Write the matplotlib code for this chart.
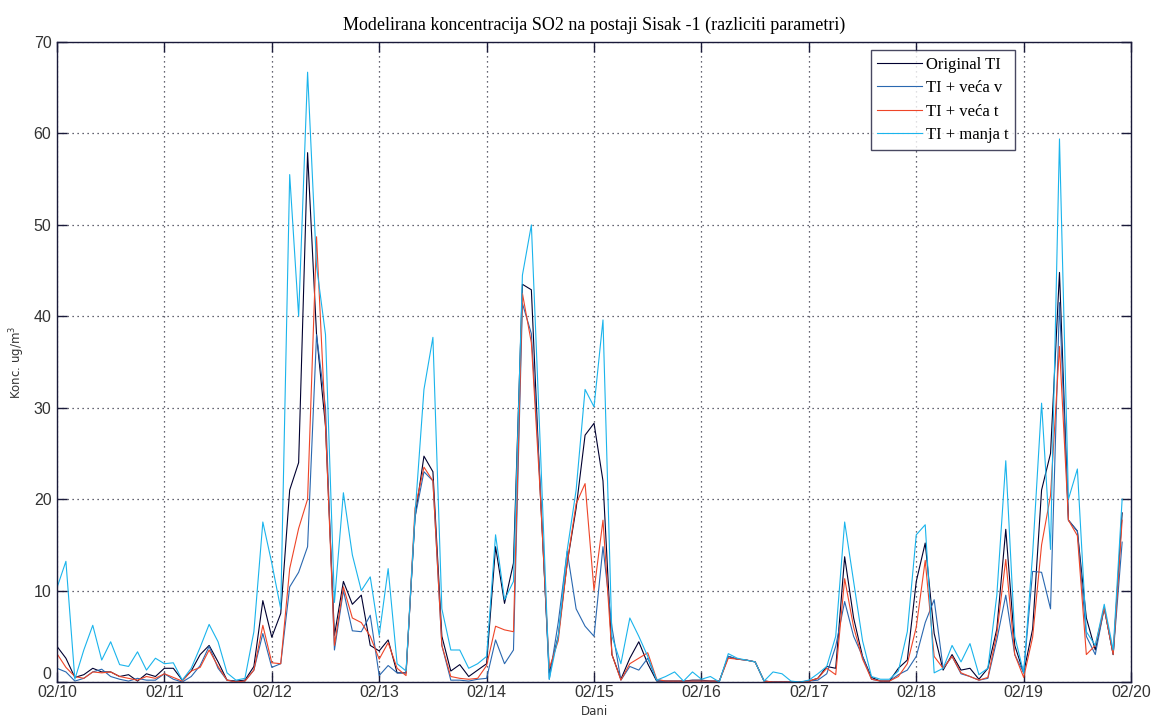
import matplotlib
matplotlib.use("Agg")
import matplotlib.pyplot as plt
import numpy as np

# 2-hourly model output, 02/10 00h .. 02/19 22h (one row per day)
hours = np.arange(0, 240, 2)

original_ti = [
    3.9, 2.6, 0.5, 0.8, 1.5, 1.1, 1.1, 0.6, 0.8, 0.1, 0.9, 0.6,
    1.5, 1.5, 0.2, 1.2, 3.0, 4.0, 2.2, 0.2, 0.1, 0.2, 1.7, 8.9,
    4.9, 7.5, 21.0, 24.0, 57.9, 38.0, 28.0, 5.1, 11.0, 8.5, 9.5, 4.0,
    3.4, 4.6, 1.0, 1.0, 18.0, 24.7, 23.0, 5.0, 1.2, 1.9, 0.6, 1.3,
    2.0, 14.8, 8.6, 13.0, 43.5, 42.9, 20.6, 1.0, 5.0, 13.0, 19.0, 27.0,
    28.3, 22.0, 3.0, 0.3, 2.6, 4.4, 2.0, 0.1, 0.1, 0.1, 0.1, 0.2,
    0.2, 0.1, 0.1, 2.8, 2.5, 2.4, 2.2, 0.1, 0.0, 0.0, 0.0, 0.0,
    0.1, 0.4, 1.7, 1.5, 13.7, 7.0, 2.8, 0.5, 0.1, 0.1, 1.5, 2.4,
    11.0, 15.2, 5.3, 1.3, 3.0, 1.3, 1.5, 0.3, 1.5, 5.8, 16.7, 4.0,
    1.0, 5.8, 21.0, 25.0, 44.8, 17.7, 16.5, 7.0, 3.5, 8.1, 3.0, 18.5,
]

veca_v = [
    1.5, 1.1, 0.1, 0.4, 1.1, 1.4, 0.6, 0.3, 0.1, 0.4, 0.2, 0.2,
    0.9, 0.3, 0.0, 0.6, 1.8, 3.9, 1.5, 0.2, 0.0, 0.1, 1.3, 5.3,
    1.6, 2.0, 10.4, 12.0, 14.8, 38.0, 30.0, 3.5, 10.0, 5.6, 5.5, 7.3,
    0.7, 1.8, 1.0, 1.0, 18.0, 23.0, 22.0, 4.0, 0.2, 0.2, 0.1, 0.3,
    0.4, 4.6, 2.0, 3.5, 41.4, 38.1, 21.5, 0.3, 6.5, 14.3, 8.0, 6.1,
    5.0, 14.8, 6.0, 0.2, 1.7, 1.3, 2.6, 0.2, 0.1, 0.1, 0.1, 0.1,
    0.1, 0.1, 0.1, 2.8, 2.5, 2.4, 2.2, 0.1, 0.0, 0.0, 0.0, 0.0,
    0.1, 0.2, 0.9, 3.9, 8.8, 5.0, 2.8, 0.3, 0.1, 0.1, 0.8, 1.3,
    2.8, 6.5, 9.0, 1.5, 2.8, 0.9, 0.6, 0.2, 0.4, 4.6, 9.5, 3.0,
    1.0, 12.1, 12.0, 8.0, 41.5, 17.7, 16.5, 5.0, 3.0, 8.1, 3.0, 15.3,
]

veca_t = [
    3.1, 1.6, 0.6, 0.4, 1.1, 1.0, 1.1, 0.6, 0.4, 0.2, 0.6, 0.4,
    0.9, 0.5, 0.1, 1.2, 1.6, 3.5, 1.7, 0.2, 0.0, 0.1, 1.3, 6.2,
    2.1, 2.0, 12.4, 16.8, 20.0, 48.7, 28.0, 4.0, 10.4, 7.0, 6.5, 5.0,
    2.5, 4.3, 1.5, 0.7, 19.0, 23.5, 22.0, 4.0, 0.6, 0.4, 0.3, 0.4,
    1.8, 6.1, 5.7, 5.5, 42.5, 37.1, 20.5, 1.5, 4.5, 13.0, 19.5, 21.7,
    10.0, 17.7, 3.0, 0.2, 2.0, 2.6, 3.2, 0.3, 0.1, 0.1, 0.1, 0.1,
    0.1, 0.1, 0.1, 2.6, 2.5, 2.4, 2.2, 0.1, 0.0, 0.0, 0.0, 0.0,
    0.1, 0.4, 1.5, 0.8, 11.3, 6.0, 2.5, 0.3, 0.1, 0.1, 0.6, 2.0,
    6.0, 13.3, 2.8, 1.5, 2.8, 1.0, 0.6, 0.2, 0.5, 5.3, 13.4, 3.0,
    0.5, 4.9, 15.0, 20.4, 36.7, 17.7, 16.0, 3.0, 4.0, 8.1, 3.0, 17.7,
]

manja_t = [
    10.3, 13.2, 0.3, 3.5, 6.2, 2.4, 4.4, 1.9, 1.7, 3.3, 1.3, 2.6,
    2.0, 2.1, 0.2, 1.5, 3.8, 6.3, 4.4, 1.0, 0.2, 0.4, 5.5, 17.5,
    13.0, 8.0, 55.5, 40.0, 66.7, 45.5, 38.0, 8.7, 20.7, 13.9, 10.0, 11.5,
    5.1, 12.4, 2.0, 1.2, 18.3, 32.0, 37.7, 8.0, 3.5, 3.5, 1.5, 2.0,
    2.8, 16.1, 9.0, 11.0, 44.5, 50.0, 25.7, 0.3, 5.0, 14.4, 21.0, 32.0,
    30.1, 39.6, 5.0, 2.0, 7.0, 5.0, 2.8, 0.2, 0.6, 1.1, 0.1, 1.1,
    0.3, 0.6, 0.0, 3.1, 2.6, 2.4, 2.2, 0.1, 1.1, 0.9, 0.1, 0.0,
    0.2, 0.9, 1.7, 5.0, 17.5, 11.0, 4.5, 0.6, 0.3, 0.3, 1.2, 5.5,
    16.1, 17.2, 1.0, 1.5, 4.0, 2.2, 4.2, 0.8, 1.5, 9.5, 24.2, 5.0,
    1.0, 14.0, 30.5, 14.5, 59.4, 20.0, 23.3, 5.5, 4.0, 8.5, 3.5, 20.0,
]

day_labels = ["02/10", "02/11", "02/12", "02/13", "02/14", "02/15",
              "02/16", "02/17", "02/18", "02/19", "02/20"]
series_names = ["Original TI", "TI + veća v", "TI + veća t", "TI + manja t"]

colors = ["#000030", "#2a68b0", "#ee4528", "#1ab4ec"]

fig = plt.figure(figsize=(11.53, 7.21), dpi=100)
ax = fig.add_axes([0.0494, 0.0541, 0.9316, 0.8876])

for vals, name, c in zip([original_ti, veca_v, veca_t, manja_t], series_names, colors):
    ax.plot(hours, vals, color=c, linewidth=0.8, label=name)

ax.set_xlim(0, 240)
ax.set_ylim(0, 70)
ax.set_xticks(np.arange(0, 241, 24))
ax.set_xticklabels(day_labels)
ax.set_yticks(np.arange(0, 71, 10))

for lbl in ax.get_xticklabels() + ax.get_yticklabels():
    lbl.set_fontfamily("Liberation Sans")
    lbl.set_fontsize(11.5)
    lbl.set_color("#333333")
# the zero label sits just above the x axis, clear of the first date
ax.get_yticklabels()[0].set_verticalalignment("bottom")

ax.tick_params(direction="in", length=7, width=1, top=True, right=True,
               color="#1a1a3a")
ax.tick_params(axis="x", pad=2)
ax.tick_params(axis="y", pad=4)
ax.grid(True, linestyle=(0, (1, 3)), color="#333344", linewidth=0.9)
for sp in ax.spines.values():
    sp.set_color("#1a1a3a")
    sp.set_linewidth(1.0)

ax.set_title("Modelirana koncentracija SO2 na postaji Sisak -1 (razliciti parametri)",
             family="Liberation Serif", fontsize=13, pad=9)
ax.set_xlabel("Dani", family="DejaVu Sans", fontsize=8.5, labelpad=4, color="#333333")
ax.set_ylabel("Konc. ug/m$^3$", family="DejaVu Sans", fontsize=8.5, labelpad=5,
              color="#333333")

leg = ax.legend(loc="upper right", bbox_to_anchor=(0.892, 0.9875),
                prop={"family": "Liberation Serif", "size": 12},
                frameon=True, fancybox=False, handlelength=2.7,
                handletextpad=0.2, borderpad=0.4, labelspacing=0.45,
                borderaxespad=0)
leg.get_frame().set_edgecolor("#1a1a3a")
leg.get_frame().set_linewidth(1.0)

fig.savefig("out.png", dpi=100)
